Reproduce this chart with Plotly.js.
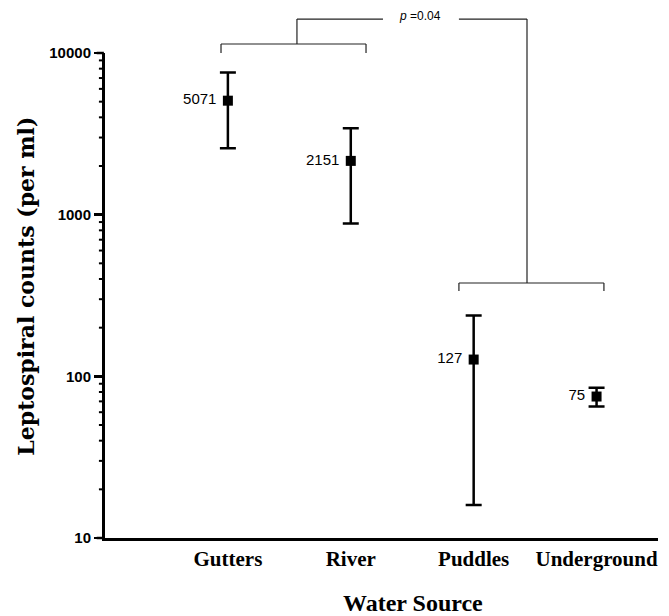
<!DOCTYPE html>
<html>
<head>
<meta charset="utf-8">
<script src="https://cdn.plot.ly/plotly-3.0.1.min.js"></script>
<style>html,body{margin:0;padding:0;background:#fff;}#chart{width:669px;height:616px;}</style>
</head>
<body>
<div id="chart"></div>
<script>
// Data
const categories = ["Gutters", "River", "Puddles", "Underground"];
const positions = [0, 1, 2, 3];
const counts = [5071, 2151, 127, 75];
const errors = [2500, 1270, 111, 10];
const countLabels = ["5071", "2151", "127", "75"];
const yTickVals = [10, 100, 1000, 10000];
const yTickText = ["10", "100", "1000", "10000"];
const pText = "<i>p</i> =0.04";

// minor tick positions 2..9 within each decade
const minorVals = [];
for (let d = 10; d < 10000; d *= 10) {
  for (let m = 2; m <= 9; m++) minorVals.push(m * d);
}
const yRange = [Math.log10(yTickVals[0]), Math.log10(yTickVals[yTickVals.length - 1])];
function toPaperY(v) { return (Math.log10(v) - yRange[0]) / (yRange[1] - yRange[0]); }

const trace = {
  x: positions,
  y: counts,
  type: "scatter",
  mode: "markers+text",
  text: countLabels,
  texttemplate: "%{text}\u00a0",
  textposition: "middle left",
  textfont: {family: "Liberation Sans, Arial, sans-serif", size: 15, color: "#000"},
  marker: {symbol: "square", size: 10, color: "#000"},
  error_y: {type: "data", array: errors, visible: true, color: "#000", thickness: 2.5, width: 8},
  cliponaxis: false,
  showlegend: false,
  hoverinfo: "skip"
};

const lineStyle = {color: "#222", width: 1.2};
function seg(x0, y0, x1, y1) {
  return {type: "line", xref: "x", yref: "paper", x0: x0, y0: y0, x1: x1, y1: y1, line: lineStyle};
}
const shapes = [
  // left bracket (Gutters + River)
  seg(-0.056, 1.0186, 1.124, 1.0186),
  seg(-0.056, 1.0186, -0.056, 1.0),
  seg(1.124, 1.0186, 1.124, 1.0),
  // right bracket (Puddles + Underground)
  seg(1.880, 0.5258, 3.060, 0.5258),
  seg(1.880, 0.5258, 1.880, 0.5093),
  seg(3.060, 0.5258, 3.060, 0.5093),
  // top connector
  seg(0.562, 1.0186, 0.562, 1.070),
  seg(0.562, 1.070, 1.262, 1.070),
  seg(1.880, 1.070, 2.434, 1.070),
  seg(2.434, 1.070, 2.434, 0.5258)
];
// axis tick marks (major and minor) drawn as paper-referenced lines
yTickVals.forEach(v => {
  const p = toPaperY(v);
  shapes.push({type: "line", xref: "paper", yref: "paper", x0: -0.0150, x1: -0.002,
    y0: p, y1: p, line: {color: "#000", width: 2.5}});
});
minorVals.forEach(v => {
  const p = toPaperY(v);
  shapes.push({type: "line", xref: "paper", yref: "paper", x0: -0.0110, x1: -0.002,
    y0: p, y1: p, line: {color: "#000", width: 2}});
});

const layout = {
  width: 669,
  height: 616,
  margin: {l: 105, r: 11, t: 53, b: 78},
  paper_bgcolor: "#fff",
  plot_bgcolor: "#fff",
  xaxis: {
    range: [-1, 3.5],
    tickvals: positions,
    ticktext: categories,
    showgrid: false,
    zeroline: false,
    showline: true,
    linecolor: "#000",
    linewidth: 3,
    ticks: "",
    tickfont: {family: "Liberation Serif, Times New Roman, serif", size: 21, color: "#000", weight: "bold"}
  },
  yaxis: {
    type: "log",
    range: yRange,
    tickvals: yTickVals,
    ticktext: yTickText,
    showgrid: false,
    zeroline: false,
    showline: true,
    linecolor: "#000",
    linewidth: 3,
    ticks: "outside",
    ticklen: 8,
    tickwidth: 2.5,
    tickcolor: "#000",
    tickfont: {family: "Liberation Sans, Arial, sans-serif", size: 15, color: "#000", weight: "bold"}
  },
  shapes: shapes,
  annotations: [
    {text: pText, xref: "x", yref: "paper", x: 1.563, y: 1.076, showarrow: false, xanchor: "center", yanchor: "middle",
     font: {family: "Liberation Sans, Arial, sans-serif", size: 12, color: "#000"}},
    {text: "<b>Water Source</b>", xref: "paper", yref: "paper", x: 0.557, y: -0.135, showarrow: false, xanchor: "center", yanchor: "middle",
     font: {family: "Liberation Serif, Times New Roman, serif", size: 24, color: "#000"}},
    {text: "<b>Leptospiral counts (per ml)</b>", xref: "paper", yref: "paper", x: -0.143, y: 0.52, textangle: -90, showarrow: false, xanchor: "center", yanchor: "middle",
     font: {family: "DejaVu Serif, serif", size: 22, color: "#000"}}
  ]
};

Plotly.newPlot("chart", [trace], layout, {displayModeBar: false, staticPlot: true});
</script>
</body>
</html>
